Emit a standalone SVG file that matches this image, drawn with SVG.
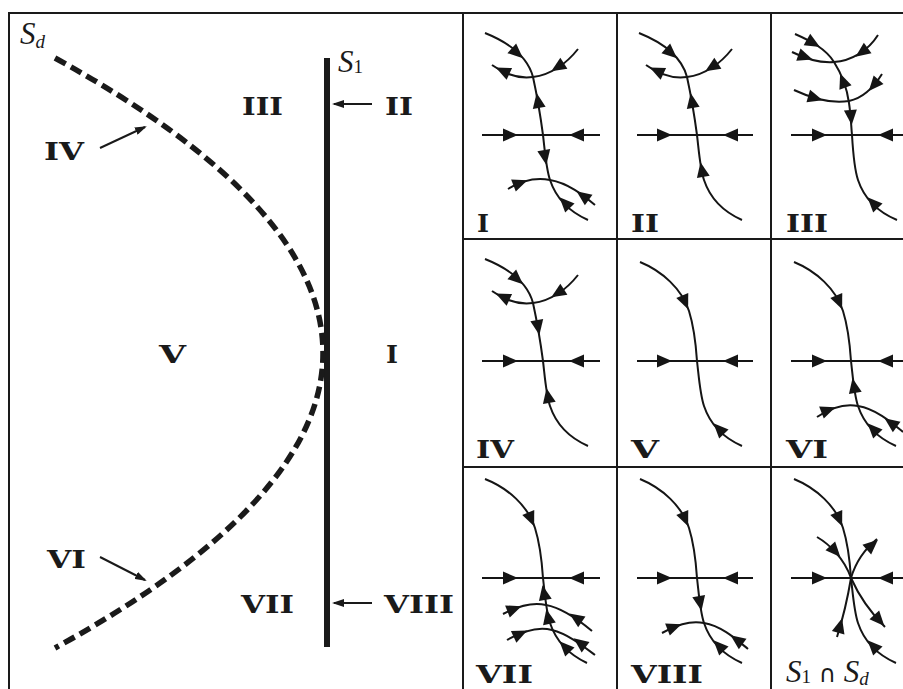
<svg xmlns="http://www.w3.org/2000/svg" xmlns:xlink="http://www.w3.org/1999/xlink" width="903" height="689" viewBox="0 0 903 689">
<style>
.fr{stroke:#1a1a1a;stroke-width:2;fill:none}
.c{stroke:#151515;stroke-width:2;fill:none}
.lb{font-family:"DejaVu Serif","Liberation Serif",serif;font-weight:bold;font-size:25px;fill:#1a1a1a}
.pl{font-family:"DejaVu Serif","Liberation Serif",serif;font-weight:bold;font-size:25px;fill:#1a1a1a}
.ms{font-family:"Liberation Serif","DejaVu Serif",serif;font-style:italic;font-size:31px;fill:#1a1a1a}
.sub{font-size:19px}
.la{stroke:#1a1a1a;stroke-width:2;fill:none;marker-end:url(#lh)}
</style>
<defs>
<path id="ah" d="M8,0 L-7,-6.5 L-7,6.5 Z" fill="#151515"/>
<marker id="lh" markerUnits="userSpaceOnUse" markerWidth="12" markerHeight="8" refX="10" refY="4" orient="auto">
<path d="M0,0 L12,4 L0,8 Z" fill="#1a1a1a"/>
</marker>
</defs>
<rect width="903" height="689" fill="#ffffff"/>
<g id="frame">
<path class="fr" d="M9,689 V13 H903"/>
<path class="fr" d="M463,13 V689 M617,13 V689 M771,13 V689 M463,239 H903 M463,467 H903"/>
</g>
<g id="curves">
<line id="S1" x1="327" y1="58" x2="327" y2="647" stroke="#1a1a1a" stroke-width="6"/>
<path id="Sd" d="M55,58 Q591,353 55,648" stroke="#1a1a1a" stroke-width="5.5" fill="none" stroke-dasharray="12 6"/>
</g>
<g id="connectors">
<line class="la" x1="372" y1="104" x2="334" y2="104"/>
<line class="la" x1="100" y1="148" x2="145" y2="127"/>
<line class="la" x1="100" y1="557" x2="145" y2="580"/>
<line class="la" x1="372" y1="603" x2="334" y2="603"/>
</g>
<g id="region-labels">
<text class="ms" x="20" y="44">S<tspan class="sub" dy="4">d</tspan></text>
<text class="ms" x="338" y="72">S<tspan class="sub" dy="1" font-style="normal">1</tspan></text>
<text class="lb" x="242" y="115" textLength="41" lengthAdjust="spacingAndGlyphs">III</text>
<text class="lb" x="385" y="115" textLength="28" lengthAdjust="spacingAndGlyphs">II</text>
<text class="lb" x="44" y="160" textLength="40" lengthAdjust="spacingAndGlyphs">IV</text>
<text class="lb" x="159" y="363" textLength="27" lengthAdjust="spacingAndGlyphs">V</text>
<text class="lb" x="386" y="363" textLength="12" lengthAdjust="spacingAndGlyphs">I</text>
<text class="lb" x="47" y="568" textLength="39" lengthAdjust="spacingAndGlyphs">VI</text>
<text class="lb" x="241" y="613" textLength="53" lengthAdjust="spacingAndGlyphs">VII</text>
<text class="lb" x="384" y="613" textLength="70" lengthAdjust="spacingAndGlyphs">VIII</text>
</g>
<g id="panel-I" transform="translate(463,13)">
<path class="c" d="M22,20 C47,30 65,45 70,64 C75,87 78,107 80,122 C82,139 83,155 87,167 C93,185 107,199 125,207"/>
<path class="c" d="M29,52 C40,60 55,66 70,64 C88,62 104,50 115,36"/>
<path class="c" d="M19,122 H137"/>
<path class="c" d="M45,176 C58,168 72,164 87,167 C105,170 120,182 132,192"/>
<use xlink:href="#ah" transform="translate(54,40) rotate(42)"/>
<use xlink:href="#ah" transform="translate(75,88) rotate(-100)"/>
<use xlink:href="#ah" transform="translate(82,144) rotate(80)"/>
<use xlink:href="#ah" transform="translate(102,190) rotate(226)"/>
<use xlink:href="#ah" transform="translate(40,58) rotate(205)"/>
<use xlink:href="#ah" transform="translate(95,54) rotate(147)"/>
<use xlink:href="#ah" transform="translate(57,170) rotate(-21)"/>
<use xlink:href="#ah" transform="translate(120,183) rotate(216)"/>
<use xlink:href="#ah" transform="translate(47,122)"/>
<use xlink:href="#ah" transform="translate(114,122) rotate(180)"/>
<text class="pl" x="14" y="219" textLength="12" lengthAdjust="spacingAndGlyphs">I</text>
</g>
<g id="panel-II" transform="translate(617,13)">
<path class="c" d="M22,20 C47,30 65,45 70,64 C75,87 78,107 80,122 C82,139 83,155 87,167 C93,185 107,199 125,207"/>
<path class="c" d="M29,52 C40,60 55,66 70,64 C88,62 104,50 115,36"/>
<path class="c" d="M20,122 H136"/>
<use xlink:href="#ah" transform="translate(54,40) rotate(42)"/>
<use xlink:href="#ah" transform="translate(75,88) rotate(-100)"/>
<use xlink:href="#ah" transform="translate(85,157) rotate(259)"/>
<use xlink:href="#ah" transform="translate(40,58) rotate(205)"/>
<use xlink:href="#ah" transform="translate(95,54) rotate(147)"/>
<use xlink:href="#ah" transform="translate(47,122)"/>
<use xlink:href="#ah" transform="translate(114,122) rotate(180)"/>
<text class="pl" x="14" y="219" textLength="28" lengthAdjust="spacingAndGlyphs">II</text>
</g>
<g id="panel-III" transform="translate(771,13)">
<path class="c" d="M24,21 C40,28 55,36 63,49 C70,60 76,75 78,90 C80,103 80,112 81,122 C82,139 83,155 87,167 C93,185 107,199 126,207"/>
<path class="c" d="M21,39 C35,46 50,50 63,49 C80,48 97,38 107,22"/>
<path class="c" d="M23,77 C38,84 60,91 78,88 C92,85 103,74 111,61"/>
<path class="c" d="M20,122 H132"/>
<use xlink:href="#ah" transform="translate(42,30) rotate(30)"/>
<use xlink:href="#ah" transform="translate(34,44) rotate(19)"/>
<use xlink:href="#ah" transform="translate(91,39) rotate(144)"/>
<use xlink:href="#ah" transform="translate(72,68) rotate(249)"/>
<use xlink:href="#ah" transform="translate(44,85) rotate(16)"/>
<use xlink:href="#ah" transform="translate(103,72) rotate(131)"/>
<use xlink:href="#ah" transform="translate(80,104) rotate(85)"/>
<use xlink:href="#ah" transform="translate(102,190) rotate(226)"/>
<use xlink:href="#ah" transform="translate(48,122)"/>
<use xlink:href="#ah" transform="translate(115,122) rotate(180)"/>
<text class="pl" x="15" y="219" textLength="42" lengthAdjust="spacingAndGlyphs">III</text>
</g>
<g id="panel-IV" transform="translate(463,239)">
<path class="c" d="M22,20 C47,30 65,45 70,64 C75,87 78,107 80,122 C82,139 83,155 87,167 C93,185 107,199 125,207"/>
<path class="c" d="M29,52 C40,60 55,66 70,64 C88,62 104,50 115,36"/>
<path class="c" d="M19,122 H137"/>
<use xlink:href="#ah" transform="translate(54,40) rotate(42)"/>
<use xlink:href="#ah" transform="translate(75,88) rotate(80)"/>
<use xlink:href="#ah" transform="translate(85,157) rotate(259)"/>
<use xlink:href="#ah" transform="translate(40,58) rotate(205)"/>
<use xlink:href="#ah" transform="translate(95,54) rotate(147)"/>
<use xlink:href="#ah" transform="translate(47,122)"/>
<use xlink:href="#ah" transform="translate(114,122) rotate(180)"/>
<text class="pl" x="13" y="219" textLength="38" lengthAdjust="spacingAndGlyphs">IV</text>
</g>
<g id="panel-V" transform="translate(617,239)">
<path class="c" d="M23,23 C45,32 65,50 72,72 C77,88 79,107 80,122 C82,139 83,155 87,167 C93,185 107,199 125,207"/>
<path class="c" d="M20,122 H136"/>
<use xlink:href="#ah" transform="translate(68,63) rotate(67)"/>
<use xlink:href="#ah" transform="translate(102,190) rotate(226)"/>
<use xlink:href="#ah" transform="translate(47,122)"/>
<use xlink:href="#ah" transform="translate(114,122) rotate(180)"/>
<text class="pl" x="14" y="219" textLength="28" lengthAdjust="spacingAndGlyphs">V</text>
</g>
<g id="panel-VI" transform="translate(771,239)">
<path class="c" d="M23,23 C45,32 65,50 72,72 C77,88 79,107 80,122 C82,139 83,155 87,167 C93,185 107,199 125,207"/>
<path class="c" d="M46,178 C58,170 72,164 87,167 C105,170 120,183 132,193"/>
<path class="c" d="M20,122 H132"/>
<use xlink:href="#ah" transform="translate(68,63) rotate(67)"/>
<use xlink:href="#ah" transform="translate(83,147) rotate(259)"/>
<use xlink:href="#ah" transform="translate(102,190) rotate(226)"/>
<use xlink:href="#ah" transform="translate(57,171) rotate(-21)"/>
<use xlink:href="#ah" transform="translate(120,184) rotate(216)"/>
<use xlink:href="#ah" transform="translate(48,122)"/>
<use xlink:href="#ah" transform="translate(115,122) rotate(180)"/>
<text class="pl" x="15" y="219" textLength="42" lengthAdjust="spacingAndGlyphs">VI</text>
</g>
<g id="panel-VII" transform="translate(463,456)">
<path class="c" d="M22,23 C45,32 65,50 72,72 C77,88 79,107 80,122 C82,139 83,155 87,167 C93,185 107,199 124,207"/>
<path class="c" d="M40,158 C55,150 70,146 83,149 C100,152 117,165 129,175"/>
<path class="c" d="M44,184 C58,176 74,170 89,174 C105,178 120,190 132,199"/>
<path class="c" d="M19,122 H137"/>
<use xlink:href="#ah" transform="translate(68,63) rotate(67)"/>
<use xlink:href="#ah" transform="translate(81,137) rotate(259)"/>
<use xlink:href="#ah" transform="translate(85,161) rotate(258)"/>
<use xlink:href="#ah" transform="translate(102,191) rotate(226)"/>
<use xlink:href="#ah" transform="translate(51,153) rotate(-21)"/>
<use xlink:href="#ah" transform="translate(113,162) rotate(214)"/>
<use xlink:href="#ah" transform="translate(57,178) rotate(-25)"/>
<use xlink:href="#ah" transform="translate(117,187) rotate(217)"/>
<use xlink:href="#ah" transform="translate(47,122)"/>
<use xlink:href="#ah" transform="translate(114,122) rotate(180)"/>
<text class="pl" x="13" y="227" textLength="57" lengthAdjust="spacingAndGlyphs">VII</text>
</g>
<g id="panel-VIII" transform="translate(617,456)">
<path class="c" d="M23,23 C45,32 65,50 72,72 C77,88 79,107 80,122 C82,139 83,155 87,167 C93,185 107,199 125,207"/>
<path class="c" d="M45,177 C58,170 72,164 87,167 C105,170 120,184 131,193"/>
<path class="c" d="M20,122 H136"/>
<use xlink:href="#ah" transform="translate(68,63) rotate(67)"/>
<use xlink:href="#ah" transform="translate(83,147) rotate(79)"/>
<use xlink:href="#ah" transform="translate(102,190) rotate(226)"/>
<use xlink:href="#ah" transform="translate(57,171) rotate(-21)"/>
<use xlink:href="#ah" transform="translate(120,184) rotate(216)"/>
<use xlink:href="#ah" transform="translate(47,122)"/>
<use xlink:href="#ah" transform="translate(114,122) rotate(180)"/>
<text class="pl" x="14" y="227" textLength="72" lengthAdjust="spacingAndGlyphs">VIII</text>
</g>
<g id="panel-S1-Sd" transform="translate(771,456)">
<path class="c" d="M23,23 C45,32 65,50 72,72 C77,88 79,107 80,122 C82,139 83,155 87,167 C93,185 107,199 125,207"/>
<path class="c" d="M46,81 C58,88 73,102 80,122"/>
<path class="c" d="M80,122 C85,105 95,92 106,83"/>
<path class="c" d="M80,122 C77,140 72,162 66,181"/>
<path class="c" d="M80,122 C88,140 100,157 114,171"/>
<path class="c" d="M20,122 H132"/>
<use xlink:href="#ah" transform="translate(68,63) rotate(67)"/>
<use xlink:href="#ah" transform="translate(64,95) rotate(48)"/>
<use xlink:href="#ah" transform="translate(101,89) rotate(-42)"/>
<use xlink:href="#ah" transform="translate(69,170) rotate(-75)"/>
<use xlink:href="#ah" transform="translate(108,164) rotate(48)"/>
<use xlink:href="#ah" transform="translate(102,190) rotate(226)"/>
<use xlink:href="#ah" transform="translate(48,122)"/>
<use xlink:href="#ah" transform="translate(115,122) rotate(180)"/>
<text class="ms" x="15" y="226" font-size="29">S<tspan class="sub" dy="1" font-style="normal">1</tspan><tspan dy="-1" font-style="normal" font-family="DejaVu Sans, sans-serif" font-size="24"> ∩ </tspan>S<tspan class="sub" dy="3">d</tspan></text>
</g>
</svg>
